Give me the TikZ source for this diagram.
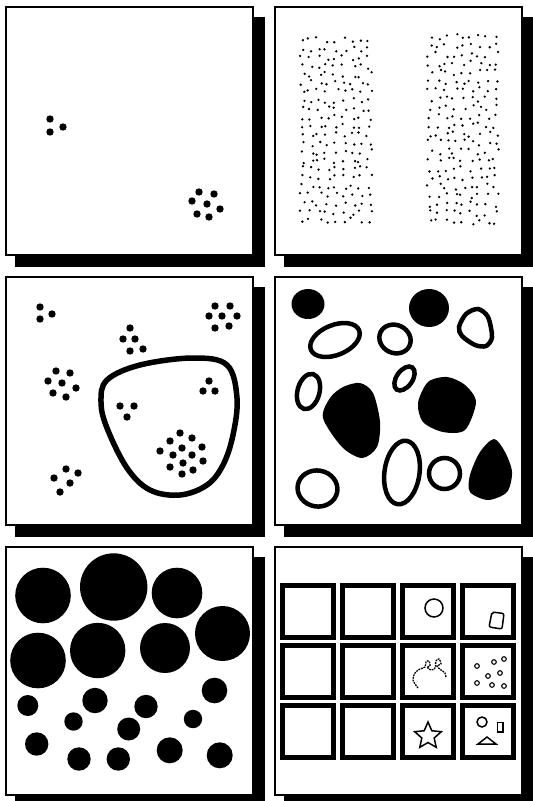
\documentclass[tikz,border=0pt]{standalone}
\usepackage{tikz}

\begin{document}
\begin{tikzpicture}[x=1pt, y=-1pt,
  shadow/.style={fill=black},
  frame/.style={draw=black, line width=1.4pt, fill=white},
  blot/.style={fill=black},
  speck/.style={fill=black},
  ring/.style={draw=black, line width=4.5pt},
  cell/.style={draw=black, line width=5pt},
  fine/.style={draw=black, line width=1.5pt},
  chain/.style={draw=black, line width=1.3pt, dash pattern=on 1.8pt off 0.9pt}]
\useasboundingbox (0,0) rectangle (533,801);
% ---------------- frames with drop shadow ----------------
\foreach \px/\py in {6/7, 275/7, 6/277, 275/277, 6/547, 275/547}{
  \fill[shadow] (\px+9,\py+10) rectangle (\px+259,\py+260);
  \draw[frame] (\px,\py) rectangle (\px+247,\py+248);}
% ---------------- two small clusters ----------------
\begin{scope}[shift={(6,7)}]
\foreach \x/\y in {44/112, 44/125, 57/120}
  \fill[blot] (\x,\y) circle (3.7);
\foreach \x/\y in {193/185, 208/187, 186/194, 201/197, 214/202, 191/207, 203/210}
  \fill[blot] (\x,\y) circle (3.7);
\end{scope}
% ---------------- two bands of specks ----------------
\begin{scope}[shift={(275,7)}]
\pgfmathsetseed{4242}
\foreach \i in {0,...,8}
  \foreach \j in {0,...,21}{
    \fill[speck] ({27+8.4*\i+3*rand},{33+8.6*\j+3*rand}) circle (1.3);
    \fill[speck] ({155+8.2*\i+3*rand},{30+8.8*\j+3*rand}) circle (1.3);}
\end{scope}
% ---------------- clusters and outline ----------------
\begin{scope}[shift={(6,277)}]
\foreach \x/\y in {34/30, 34/42, 46/37,
    209/29, 224/29, 203/39, 216/39, 231/39, 209/51, 223/49,
    124/51, 117/62, 129/62, 124/74, 137/72,
    50/94, 64/96, 42/104, 56/106, 70/111, 47/116, 60/120,
    203/104, 197/114, 209/114,
    114/129, 128/129, 121/140,
    174/156, 186/161, 164/164, 154/174, 176/171, 196/170, 167/178,
    186/178, 177/186, 197/184, 164/190, 187/193, 176/197,
    60/192, 72/196, 48/201, 64/206, 54/215}
  \fill[blot] (\x,\y) circle (3.7);
\draw[line width=5.5pt] plot[smooth cycle, tension=0.6] coordinates {
  (101,103) (134,88) (187,81) (221,88) (231,121) (227,158) (217,188)
  (201,208) (174,218) (144,213) (121,191) (101,151) (95,125)};
\end{scope}
% ---------------- blobs and rings ----------------
\begin{scope}[shift={(275,277)}]
\fill (33,27) ellipse [x radius=16.5, y radius=15];
\fill (154,31) ellipse [x radius=20, y radius=19];
\draw[ring, rotate around={22:(60,63)}] (60,63) ellipse [x radius=26, y radius=15];
\draw[ring, rotate around={-25:(120,62)}] (120,62) ellipse [x radius=16, y radius=14];
\draw[ring] plot[smooth cycle] coordinates {
  (203,32) (213,40) (217,60) (211,69) (200,68) (187,59) (184,50) (191,37)};
\draw[ring, rotate around={-15:(33.5,114.5)}] (33.5,114.5) ellipse [x radius=11, y radius=18];
\draw[ring, rotate around={-35:(129.5,101.5)}] (129.5,101.5) ellipse [x radius=8, y radius=13.5];
\fill plot[smooth cycle] coordinates {
  (85,106) (98,116) (105,145) (102,170) (87,181) (67,170) (48,141) (55,121) (68,110)};
\fill plot[smooth cycle] coordinates {
  (172,100) (190,108) (201,125) (190,153) (168,155) (148,145) (143,126) (153,105)};
\draw[ring, rotate around={-8:(127,195.5)}] (127,195.5) ellipse [x radius=17.5, y radius=32];
\draw[ring] (169.5,196.5) circle (15.5);
\fill plot[smooth cycle] coordinates {
  (219,162) (230,175) (237,195) (232,215) (213,223) (195,215) (195,198) (205,175)};
\draw[ring, rotate around={-10:(42.5,211.5)}] (42.5,211.5) ellipse [x radius=20, y radius=18];
\end{scope}
% ---------------- discs ----------------
\begin{scope}[shift={(6,547)}]
\foreach \x/\y/\r in {37/48.5/27.8, 107.7/40/33.7, 171/46/25.3, 32/113.5/27.8,
    91.7/103.5/27.7, 159/101/25, 216.5/86.5/27.5,
    21.8/158.5/10.5, 89/153.5/12.7, 140/159.5/11.7, 208.5/143.5/12.8,
    67.5/174.5/9.2, 122.7/182/11.5, 187/172/9.2, 30.7/197/11.7,
    73/212/11.7, 112.3/212/11.7, 163.7/203.3/13, 213.7/208.3/13}
  \fill (\x,\y) circle (\r);
\end{scope}
% ---------------- grid of cells ----------------
\begin{scope}[shift={(275,547)}]
\foreach \c in {0,...,3}
  \foreach \r in {0,...,2}
    \draw[cell] ({7.5+60*\c},{38.5+60*\r}) rectangle +(51,52);
\draw[fine] (159,61) circle (9);
\draw[fine, rounded corners=2pt] (217,65) -- (229,66.5) -- (227,82) -- (214,80) -- cycle;
\draw[chain] plot[smooth, tension=0.6] coordinates {
  (143,141) (138,133) (140,126) (145,122) (150,120) (151,115) (154,114)
  (155,119) (152,120) (156,123) (160,121) (161,114) (164,112) (166,117)
  (162,119) (166,123) (170,126) (171,131)};
\foreach \x/\y in {202/119, 219/115, 229/112, 213/129, 225/126, 202/136, 217/138, 229/139}
  \draw[line width=1.1pt] (\x,\y) circle (2.3);
\draw[fine] plot[samples at={0,...,9}, variable=\k]
  ({153+(14-7.5*mod(\k,2))*cos(36*\k-90)}, {189+(14-7.5*mod(\k,2))*sin(36*\k-90)}) -- cycle;
\draw[fine] (207,175) circle (5);
\draw[fine] (222.5,175.5) rectangle (228,185);
\draw[fine] (212,190) -- (221,197) -- (203,197) -- cycle;
\end{scope}
\end{tikzpicture}
\end{document}
